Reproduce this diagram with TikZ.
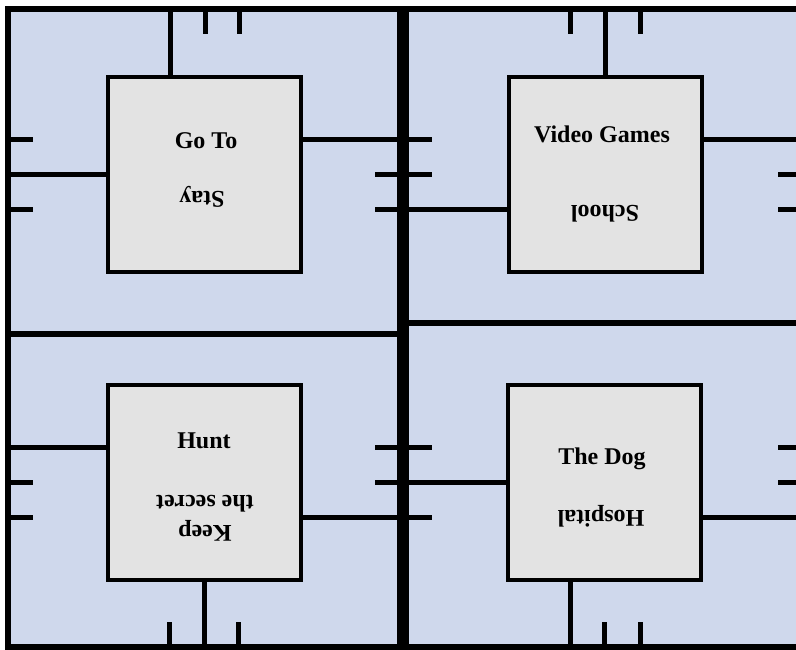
\documentclass[tikz,border=0pt]{standalone}
\usepackage{fontspec}
\setmainfont{Liberation Serif}
\usetikzlibrary{calc}
\definecolor{boardblue}{RGB}{207,216,236}
\definecolor{cardgrey}{RGB}{227,227,227}

\begin{document}
\begin{tikzpicture}[x=1pt, y=-1pt,
		panel/.style={draw=black, fill=boardblue, line width=5.5pt},
		wall/.style={line width=5pt},
		card/.style={draw=black, fill=cardgrey, line width=4pt, minimum width=193pt, minimum height=195pt, inner sep=0pt},
		word/.style={font=\bfseries\fontsize{24}{30}\selectfont, align=center}]
			%%%%% START %%%%%
			\useasboundingbox (0, 0) rectangle (796, 650);
			\clip (0, 0) rectangle (796, 650);
			
			\draw[panel] (8, 9) rectangle (400, 334);
			\draw[panel] (8, 334) rectangle (400, 647);
			\draw[panel] (406, 9) rectangle (800, 323);
			\draw[panel] (406, 323) rectangle (800, 647);
			
			\node[card] (goto) at (204.5, 174.5) {};
			\node[card] (games) at (605, 174.5) {};
			\node[card] (hunt) at (204.5, 482.5) {};
			\node[card] (dog) at (604.5, 482.5) {};
			
			% top left
			\draw[wall] (170, 9) -- (170, 77);
			\draw[wall] (205, 9) -- (205, 34);
			\draw[wall] (239, 9) -- (239, 34);
			\draw[wall] (8, 139.5) -- (33, 139.5);
			\draw[wall] (8, 174.5) -- (goto.west);
			\draw[wall] (8, 209.5) -- (33, 209.5);
			\draw[wall] (301, 140) -- (400, 140);
			\draw[wall] (375, 174.5) -- (400, 174.5);
			\draw[wall] (375, 209.5) -- (400, 209.5);
			
			% top right
			\draw[wall] (570, 9) -- (570, 34);
			\draw[wall] (605, 9) -- (games.north);
			\draw[wall] (640, 9) -- (640, 34);
			\draw[wall] (406, 139.5) -- (432, 139.5);
			\draw[wall] (406, 174.5) -- (432, 174.5);
			\draw[wall] (406, 209.5) -- (507, 209.5);
			\draw[wall] (703, 139.5) -- (800, 139.5);
			\draw[wall] (778, 174.5) -- (800, 174.5);
			\draw[wall] (778, 209.5) -- (800, 209.5);
			
			% bottom left
			\draw[wall] (8, 447) -- (108, 447);
			\draw[wall] (8, 482) -- (33, 482);
			\draw[wall] (8, 517.5) -- (33, 517.5);
			\draw[wall] (375, 447) -- (400, 447);
			\draw[wall] (375, 482) -- (400, 482);
			\draw[wall] (301, 517.5) -- (400, 517.5);
			\draw[wall] (169.5, 622) -- (169.5, 647);
			\draw[wall] (hunt.south) -- (204.5, 647);
			\draw[wall] (238.5, 622) -- (238.5, 647);
			
			% bottom right
			\draw[wall] (406, 447) -- (432, 447);
			\draw[wall] (406, 482.5) -- (dog.west);
			\draw[wall] (406, 517) -- (432, 517);
			\draw[wall] (778, 447) -- (800, 447);
			\draw[wall] (778, 482) -- (800, 482);
			\draw[wall] (702, 517.5) -- (800, 517.5);
			\draw[wall] (570.5, 580) -- (570.5, 647);
			\draw[wall] (604.5, 622) -- (604.5, 647);
			\draw[wall] (640, 622) -- (640, 647);
			
			\node[card] at (goto) {};
			\node[card] at (games) {};
			\node[card] at (hunt) {};
			\node[card] at (dog) {};
			
			\node[word] (gotoA) at (206, 141) {Go To};
			\node[word, rotate=180] (gotoB) at (202, 197) {Stay};
			\node[word] (gamesA) at (602, 134) {Video Games};
			\node[word, rotate=180] (gamesB) at (605, 214) {School};
			\node[word] (huntA) at (204, 441) {Hunt};
			\node[word, rotate=180] (huntB) at (205, 518) {Keep\\the secret};
			\node[word] (dogA) at (602, 459) {The Dog};
			\node[word, rotate=180] (dogB) at (601, 516) {Hospital};
			
			%%%%% END %%%%%
\end{tikzpicture}
\end{document}
